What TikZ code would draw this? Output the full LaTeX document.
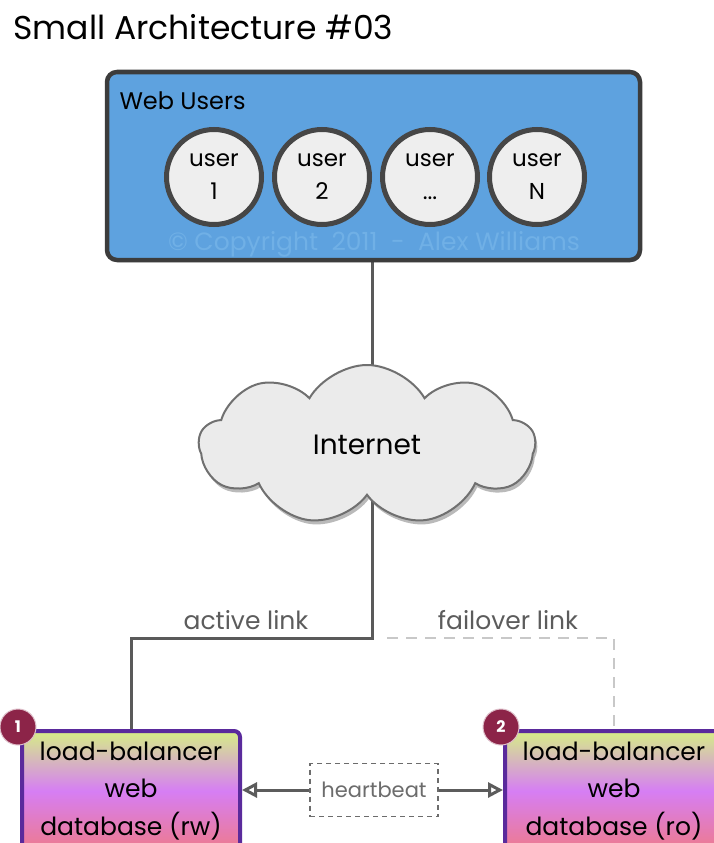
\documentclass[tikz,border=0pt]{standalone}
\usepackage{fontspec}
\setmainfont{Poppins}
\usetikzlibrary{shapes.symbols,shadows,arrows.meta,backgrounds}

\definecolor{frameGray}{HTML}{3C3C3C}
\definecolor{usersBlue}{HTML}{5EA2DF}
\definecolor{markBlue}{HTML}{70B0E6}
\definecolor{bubbleFill}{HTML}{EEEEEE}
\definecolor{cloudFill}{HTML}{EBEBEB}
\definecolor{cloudEdge}{HTML}{707070}
\definecolor{wireGray}{HTML}{5A5A5A}
\definecolor{failGray}{HTML}{C8C8C8}
\definecolor{labelGray}{HTML}{5C5C5C}
\definecolor{lbTop}{HTML}{D6EE86}
\definecolor{lbMid}{HTML}{D67EF4}
\definecolor{lbBot}{HTML}{EE7A8C}
\definecolor{lbEdge}{HTML}{5A2A9C}
\definecolor{badgeRed}{HTML}{8C2448}

\begin{document}
\begin{tikzpicture}[x=1pt,y=-1pt,
  titletext/.style={anchor=base west,font=\fontsize{33}{38}\selectfont},
  usersbox/.style={draw=frameGray,line width=4.5pt,fill=usersBlue,rounded corners=10pt,
    minimum width=533pt,minimum height=188pt,
    drop shadow={shadow xshift=1.5pt,shadow yshift=-2pt,opacity=0.35,fill=black}},
  userbubble/.style={circle,draw=frameGray!95,line width=5pt,fill=bubbleFill,
    minimum size=95pt,inner sep=0pt,align=center,font=\fontsize{23}{33}\selectfont},
  netcloud/.style={cloud,cloud puffs=9,cloud puff arc=120,aspect=2.1,
    draw=cloudEdge,line width=2pt,fill=cloudFill,minimum width=336pt,minimum height=160pt,
    font=\fontsize{28}{32}\selectfont,
    drop shadow={shadow xshift=2pt,shadow yshift=-4pt,opacity=0.45,fill=black!60}},
  wire/.style={draw=wireGray,line width=3pt},
  failwire/.style={draw=failGray,line width=2.5pt,dash pattern=on 11pt off 8pt},
  linklabel/.style={text=labelGray,font=\fontsize{25}{28}\selectfont},
  lbbox/.style={draw=lbEdge,line width=4pt,rounded corners=6pt,
    top color=lbTop,bottom color=lbBot,middle color=lbMid,
    minimum width=218pt,minimum height=120pt,align=center,
    font=\fontsize{25}{37.5}\selectfont},
  badge/.style={circle,fill=badgeRed,draw=white!70!badgeRed,line width=1pt,
    minimum size=36pt,inner sep=0pt,text=white,font=\bfseries\fontsize{16}{18}\selectfont},
  beatbox/.style={draw=labelGray!90,line width=1.5pt,dash pattern=on 5pt off 4pt,
    minimum width=128pt,minimum height=53pt,text=labelGray!90,
    font=\fontsize{21}{24}\selectfont},
  beatarrow/.style={draw=labelGray,line width=3pt,
    -{Triangle[open,length=15pt,width=15pt,line width=3pt]}}
]
\useasboundingbox (0,0) rectangle (714,843);
\clip (0,0) rectangle (714,843);

% title
\node[titletext] (title) at (10,40) {Small Architecture \#03};

% web users group
\node[usersbox] (users) at (373.5,166) {};
\node[anchor=base west,font=\fontsize{24}{28}\selectfont] (userslabel) at (116,109) {Web Users};
\node[text=markBlue,font=\fontsize{25}{28}\selectfont] (copyright) at (374,244)
  {© Copyright\ \ 2011\ \ -\ \ Alex Williams};
\node[userbubble] (u1) at (214,177) {user\\1};
\node[userbubble] (u2) at (322,177) {user\\2};
\node[userbubble] (u3) at (430,177) {user\\...};
\node[userbubble] (u4) at (537,177) {user\\N};

% internet
\node[netcloud] (net) at (367,445) {Internet};

% load-balancer hosts
\node[lbbox] (lb1) at (131,791) {load-balancer\\web\\database (rw)};
\node[lbbox] (lb2) at (614,791) {load-balancer\\web\\database (ro)};
\node[badge] (b1) at ([shift={(-2pt,2pt)}]lb1.north west) {1};
\node[badge] (b2) at ([shift={(-2pt,2pt)}]lb2.north west) {2};

% heartbeat between the hosts
\node[beatbox] (hb) at (374,790) {heartbeat};
\draw[beatarrow] (hb.west) -- (hb.west -| lb1.east);
\draw[beatarrow] (hb.east) -- (hb.east -| lb2.west);

% links
\coordinate (split) at (372,638);
\coordinate (failstart) at (387,638);
\node[linklabel] (activelabel) at (246,620) {active link};
\node[linklabel] (faillabel) at (508,620) {failover link};

\begin{pgfonlayer}{background}
  \fill[white] (0,0) rectangle (714,843);
  \draw[wire] (users.south -| split) -- (split |- net.center);
  \draw[wire] (split |- net.center) -- (split) -| (lb1.north);
  \draw[failwire] (failstart) -| (lb2.north);
\end{pgfonlayer}
\end{tikzpicture}
\end{document}
